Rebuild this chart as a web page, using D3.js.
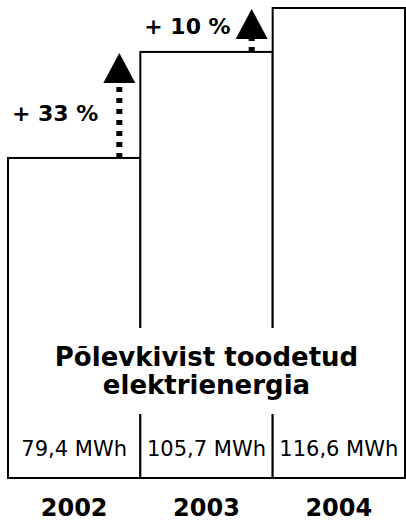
<!DOCTYPE html>
<html>
<head>
<meta charset="utf-8">
<script src="https://cdn.jsdelivr.net/npm/d3@7"></script>
<style>
html,body{margin:0;padding:0;background:#fff;}
svg{display:block;}
text{font-family:"DejaVu Sans",Verdana,sans-serif;fill:#000;}
</style>
</head>
<body>
<svg id="chart" width="406" height="522"></svg>
<script>
const years = ["2002", "2003", "2004"];
const values = [79.4, 105.7, 116.6];
const valueLabels = ["79,4 MWh", "105,7 MWh", "116,6 MWh"];
const changeLabels = ["+ 33 %", "+ 10 %"];
const titleLines = ["Põlevkivist toodetud", "elektrienergia"];

const svg = d3.select("#chart");
const x = d3.scaleBand().domain(years).range([8, 405]).padding(0);
const y = d3.scaleLinear().domain([0, 116.6]).range([478, 8]);

// bars
svg.selectAll("rect.bar").data(values).join("rect")
  .attr("class", "bar")
  .attr("x", (d, i) => x(years[i]))
  .attr("y", d => y(d))
  .attr("width", x.bandwidth())
  .attr("height", d => y(0) - y(d))
  .attr("fill", "#fff")
  .attr("stroke", "#000")
  .attr("stroke-width", 2);

// white band behind title (hides inner dividers)
svg.append("rect")
  .attr("x", x(years[0]) + 2).attr("y", 328)
  .attr("width", x.range()[1] - x.range()[0] - 4).attr("height", 86)
  .attr("fill", "#fff");

// title
const cx = (x.range()[0] + x.range()[1]) / 2;
svg.selectAll("text.title").data(titleLines).join("text")
  .attr("class", "title")
  .attr("x", cx)
  .attr("y", (d, i) => 366 + i * 28)
  .attr("text-anchor", "middle")
  .attr("font-size", 26)
  .attr("font-weight", "bold")
  .text(d => d);

// value labels
svg.selectAll("text.val").data(valueLabels).join("text")
  .attr("class", "val")
  .attr("x", (d, i) => x(years[i]) + x.bandwidth() / 2)
  .attr("y", 456)
  .attr("text-anchor", "middle")
  .attr("font-size", 21)
  .text(d => d);

// year labels
svg.selectAll("text.year").data(years).join("text")
  .attr("class", "year")
  .attr("x", d => x(d) + x.bandwidth() / 2)
  .attr("y", 516)
  .attr("text-anchor", "middle")
  .attr("font-size", 24)
  .attr("font-weight", "bold")
  .text(d => d);

// arrows
const labelDy = [8, -4];
changeLabels.forEach((lab, i) => {
  const ax = x(years[i]) + x.bandwidth() - 21;
  const y0 = y(values[i]);
  const apex = y(values[i + 1]) + 1;
  const base = apex + 30;
  const g = svg.append("g");
  g.append("line")
    .attr("x1", ax).attr("x2", ax)
    .attr("y1", y0).attr("y2", base)
    .attr("stroke", "#000")
    .attr("stroke-width", 6)
    .attr("stroke-dasharray", "5,6");
  g.append("path")
    .attr("d", `M${ax},${apex} L${ax + 16},${base} L${ax - 16},${base} Z`)
    .attr("fill", "#000");
  g.append("text")
    .attr("x", ax - 21)
    .attr("y", (y0 + apex) / 2 + labelDy[i])
    .attr("dy", "0.35em")
    .attr("text-anchor", "end")
    .attr("font-size", 22)
    .attr("font-weight", "bold")
    .text(lab);
});
</script>
</body>
</html>
